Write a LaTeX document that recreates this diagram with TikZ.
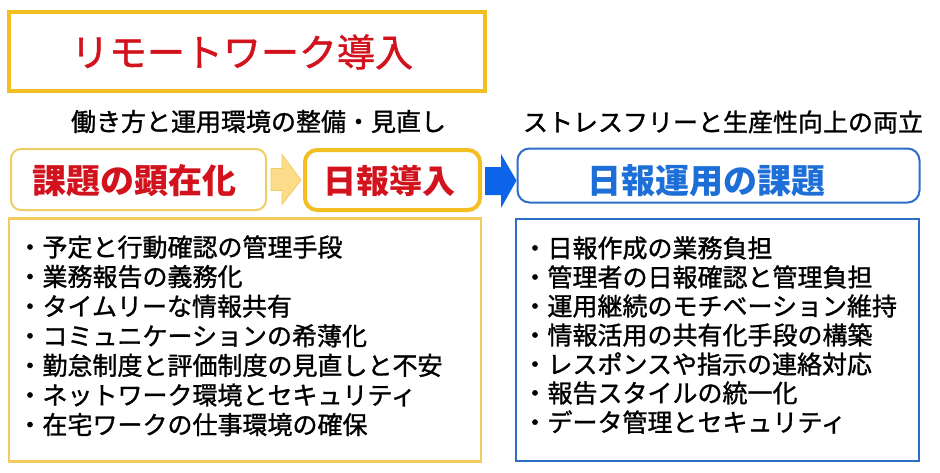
\documentclass[tikz,border=0pt]{standalone}
\usepackage{fontspec}
\setmainfont{Noto Sans CJK JP}
\newfontfamily\jp{Noto Sans CJK JP}
\newfontfamily\jpm{Noto Sans CJK JP}[FakeBold=1.2]
\usetikzlibrary{calc}
\definecolor{gold}{HTML}{F2BE22}
\definecolor{goldlt}{HTML}{EFCD62}
\definecolor{arrowY}{HTML}{FCDC8A}
\definecolor{redtx}{HTML}{D2121C}
\definecolor{bluetx}{HTML}{1D6ED6}
\definecolor{blueln}{HTML}{2E6EC6}
\definecolor{bluearr}{HTML}{0C64EA}
\tikzset{
  boxnode/.style={inner sep=0pt, outer sep=0pt},
  txt/.style={inner sep=0pt, outer sep=0pt},
  item/.style={inner sep=0pt, outer sep=0pt, anchor=west, font=\jpm\fontsize{25}{29}\selectfont},
}
\begin{document}
\begin{tikzpicture}[x=1pt,y=-1pt]
\useasboundingbox (0,0) rectangle (940,472);
\fill[white] (0,0) rectangle (940,472);
% top title box
\node[boxnode, draw=gold, line width=4pt, minimum width=476pt, minimum height=79pt] (top) at (247,51.5) {};
\node[txt, text=redtx, font=\jpm\fontsize{38}{40}\selectfont] (toptx) at (242,52) {リモートワーク導入};
% subtitles
\node[txt, font=\jpm\fontsize{25}{27}\selectfont] (subL) at (258.5,121.5) {働き方と運用環境の整備・見直し};
\node[txt, font=\jpm\fontsize{25}{27}\selectfont] (subR) at (723,122) {ストレスフリーと生産性向上の両立};
% header boxes
\node[boxnode, draw=goldlt, line width=2pt, rounded corners=10pt, minimum width=255pt, minimum height=61pt] (kadai) at (138.5,179.5) {};
\node[txt, text=redtx, font=\jp\bfseries\fontsize{34}{36}\selectfont] (kadaitx) at (134,181) {課題の顕在化};
\node[boxnode, draw=gold, line width=4pt, rounded corners=12pt, minimum width=175pt, minimum height=60pt] (dounyu) at (392.5,180) {};
\node[txt, text=redtx, font=\jp\bfseries\fontsize{33}{35}\selectfont] (dounyutx) at (389,181) {日報導入};
\node[boxnode, draw=blueln, line width=2pt, rounded corners=12pt, minimum width=402pt, minimum height=54pt] (unyou) at (718.5,175.5) {};
\node[txt, text=bluetx, font=\jp\bfseries\fontsize{34}{36}\selectfont] (unyoutx) at (706,181) {日報運用の課題};
% block arrows
\fill[arrowY, draw=goldlt, line width=0.8pt]
  ($(kadai.east)+(5,-11)$) -- ($(kadai.east)+(16,-11)$) -- ($(kadai.east)+(16,-25)$)
  -- ($(dounyu.west)+(-4,0)$)
  -- ($(kadai.east)+(16,25)$) -- ($(kadai.east)+(16,11)$) -- ($(kadai.east)+(5,11)$) -- cycle;
\fill[bluearr]
  ($(dounyu.east)+(5,-13)$) -- ($(dounyu.east)+(21,-13)$) -- ($(dounyu.east)+(21,-26)$)
  -- ($(unyou.west)+(-1,5)$)
  -- ($(dounyu.east)+(21,28)$) -- ($(dounyu.east)+(21,15)$) -- ($(dounyu.east)+(5,15)$) -- cycle;
% list boxes
\node[boxnode, draw=goldlt, line width=2.5pt, minimum width=472pt, minimum height=243pt] (listL) at (245,340) {};
\node[boxnode, draw=blueln, line width=2pt, minimum width=403pt, minimum height=242pt] (listR) at (717.5,340) {};
% left items
\foreach \t [count=\i from 0] in {予定と行動確認の管理手段,業務報告の義務化,タイムリーな情報共有,コミュニケーションの希薄化,勤怠制度と評価制度の見直しと不安,ネットワーク環境とセキュリティ,在宅ワークの仕事環境の確保}
  \node[item] (L\i) at (17.5,{247+\i*29.6}) {・\t};
% right items
\foreach \t [count=\i from 0] in {日報作成の業務負担,管理者の日報確認と管理負担,運用継続のモチベーション維持,情報活用の共有化手段の構築,レスポンスや指示の連絡対応,報告スタイルの統一化,データ管理とセキュリティ}
  \node[item] (R\i) at (522.5,{248+\i*29}) {・\t};
\end{tikzpicture}
\end{document}
